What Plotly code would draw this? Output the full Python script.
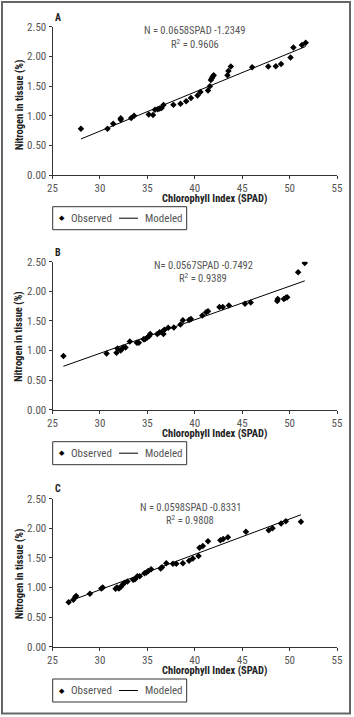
import plotly.graph_objects as go

# ---------------- data ----------------
spad_a = [28.0, 30.8, 31.4, 32.2, 32.2, 33.3, 33.6, 35.15, 35.6, 35.8, 36.1, 36.3, 36.5, 36.7,
          37.75, 38.5, 39.1, 39.6, 40.3, 40.6, 41.4, 41.6, 41.7, 41.8, 41.9, 42.0,
          43.45, 43.55, 43.8, 46.05, 47.75, 48.55, 49.1, 50.1, 50.4, 51.3, 51.7]
n_a = [0.78, 0.78, 0.865, 0.93, 0.955, 0.96, 1.0, 1.02, 1.01, 1.10, 1.11, 1.12, 1.13, 1.18,
       1.185, 1.20, 1.245, 1.30, 1.34, 1.40, 1.425, 1.495, 1.60, 1.63, 1.66, 1.68,
       1.68, 1.755, 1.83, 1.815, 1.83, 1.835, 1.87, 1.98, 2.15, 2.19, 2.23]

spad_b = [26.15, 30.7, 31.75, 31.85, 32.2, 32.45, 32.7, 33.15, 33.9, 34.1, 34.6, 34.75,
          35.0, 35.2, 35.3, 36.05, 36.3, 36.6, 36.7, 36.8, 37.2, 37.8, 38.5, 38.75,
          39.4, 39.6, 40.8, 41.2, 41.4, 42.6, 42.95, 43.6, 45.3, 45.9, 48.7, 48.75,
          49.4, 49.6, 49.75, 50.9, 51.6]
n_b = [0.905, 0.95, 0.96, 1.035, 1.0, 1.05, 1.05, 1.15, 1.13, 1.13, 1.19, 1.19,
       1.22, 1.245, 1.28, 1.28, 1.31, 1.32, 1.28, 1.35, 1.385, 1.39, 1.44, 1.51,
       1.515, 1.53, 1.59, 1.645, 1.665, 1.735, 1.735, 1.76, 1.79, 1.81, 1.835, 1.87,
       1.87, 1.89, 1.90, 2.32, 2.48]

spad_c = [26.7, 27.2, 27.4, 27.5, 28.95, 30.15, 30.3, 31.65, 31.8, 32.0, 32.2, 32.4, 32.6,
          32.9, 33.5, 33.7, 33.95, 34.2, 34.7, 34.9, 35.1, 35.4, 36.4, 36.55, 37.0,
          37.7, 38.05, 38.75, 39.4, 39.8, 40.4, 40.5, 40.85, 41.4, 42.7, 43.0, 43.5,
          45.4, 47.8, 48.2, 49.1, 49.6, 51.2]
n_c = [0.75, 0.795, 0.84, 0.855, 0.895, 0.985, 1.0, 0.98, 1.0, 0.985, 1.01, 1.05, 1.08,
       1.10, 1.13, 1.14, 1.19, 1.19, 1.24, 1.255, 1.28, 1.31, 1.32, 1.34, 1.41,
       1.40, 1.40, 1.41, 1.45, 1.49, 1.53, 1.67, 1.70, 1.78, 1.80, 1.82, 1.85,
       1.94, 1.965, 2.0, 2.08, 2.12, 2.11]

panel_labels = ["A", "B", "C"]
slopes = [0.0658, 0.0567, 0.0598]
intercepts = [-1.2349, -0.7492, -0.8331]
equations = ["N = 0.0658SPAD -1.2349", "N= 0.0567SPAD -0.7492", "N = 0.0598SPAD -0.8331"]
r2_texts = ["R<sup>2</sup> = 0.9606", "R<sup>2</sup> = 0.9389", "R<sup>2</sup> = 0.9808"]
series_names = ["Observed", "Modeled"]
x_ticks = [25, 30, 35, 40, 45, 50, 55]
y_ticks = [0.0, 0.5, 1.0, 1.5, 2.0, 2.5]
y_tick_labels = ["0.00", "0.50", "1.00", "1.50", "2.00", "2.50"]
x_title = "Chlorophyll Index (SPAD)"
y_title = "Nitrogen in tissue (%)"

# ---------------- layout helpers ----------------
W, H = 354, 717
FONT = "Roboto Condensed, Liberation Sans Narrow, Arial Narrow, sans-serif"
GRAY = "#555555"
DARK = "#222222"

def fx(px):
    return px / W

def fy(py):  # pixel y from top -> paper fraction
    return 1 - py / H

# plot areas in pixels: (top, bottom)
areas = [(26.7, 175.0), (261.7, 409.7), (498.7, 646.7)]
x_left, x_right = 52.5, 337.0
legend_tops = [206.7, 441.7, 679.0]
eq_pos = [(40.0, 2.43, 2.21), (40.9, 2.43, 2.22), (39.55, 2.355, 2.14)]
label_px = [(58, 18), (58, 252), (58, 489)]
xtitle_py = [198.5, 433.2, 670.5]
ytitle_py = [105, 336.7, 574]

datasets = [(spad_a, n_a), (spad_b, n_b), (spad_c, n_c)]

fig = go.Figure()
annotations = []
shapes = [dict(type="rect", xref="paper", yref="paper",
               x0=fx(2), x1=fx(350), y0=fy(713.5), y1=fy(2),
               line=dict(color="#666", width=2))]

def paper_text(px, py, text, font, xanchor="center", angle=0):
    return dict(x=fx(px), y=fy(py), xref="paper", yref="paper", text=text,
                showarrow=False, xanchor=xanchor, yanchor="middle",
                textangle=angle, font=font)

for i, (xs, ys) in enumerate(datasets):
    sfx = "" if i == 0 else str(i + 1)
    xa, ya = "x" + sfx, "y" + sfx
    fig.add_trace(go.Scatter(
        x=xs, y=ys, mode="markers", name=series_names[0],
        marker=dict(symbol="diamond", size=5, color="black"),
        xaxis=xa, yaxis=ya, showlegend=False))
    xmin, xmax = min(xs), max(xs)
    fig.add_trace(go.Scatter(
        x=[xmin, xmax],
        y=[slopes[i] * xmin + intercepts[i], slopes[i] * xmax + intercepts[i]],
        mode="lines", name=series_names[1], line=dict(color="black", width=1),
        xaxis=xa, yaxis=ya, showlegend=False))

    top, bot = areas[i]
    fig.update_layout(**{
        "xaxis" + sfx: dict(
            domain=[fx(x_left), fx(x_right)], anchor=ya, range=[25, 55],
            tickmode="array", tickvals=x_ticks, ticks="outside", ticklen=3,
            tickcolor="#333", showline=True, linecolor="#333", linewidth=1,
            showgrid=False, zeroline=False, automargin=False,
            tickfont=dict(family=FONT, size=11, color=GRAY)),
        "yaxis" + sfx: dict(
            domain=[fy(bot), fy(top)], anchor=xa, range=[0, 2.5],
            tickmode="array", tickvals=y_ticks, ticktext=y_tick_labels,
            ticks="outside", ticklen=3, tickcolor="#333",
            showline=True, linecolor="#333", linewidth=1,
            showgrid=False, zeroline=False, automargin=False,
            tickfont=dict(family=FONT, size=11, color=GRAY)),
    })

    ex, ey1, ey2 = eq_pos[i]
    annotations.append(dict(x=ex, y=ey1, xref=xa, yref=ya, text=equations[i],
                            showarrow=False, yanchor="middle",
                            font=dict(family=FONT, size=10.5, color=GRAY)))
    annotations.append(dict(x=ex, y=ey2, xref=xa, yref=ya, text=r2_texts[i],
                            showarrow=False, yanchor="middle",
                            font=dict(family=FONT, size=10.5, color=GRAY)))
    lx, ly = label_px[i]
    annotations.append(paper_text(lx, ly, "<b>" + panel_labels[i] + "</b>",
                                  dict(family=FONT, size=10, color=DARK)))
    annotations.append(paper_text(214, xtitle_py[i], "<b>" + x_title + "</b>",
                                  dict(family=FONT, size=10.5, color=DARK)))
    annotations.append(paper_text(19, ytitle_py[i], "<b>" + y_title + "</b>",
                                  dict(family=FONT, size=10.5, color=DARK), angle=-90))

    # key box under each panel
    lt = legend_tops[i]
    lc = lt + 11.5
    shapes.append(dict(type="rect", xref="paper", yref="paper",
                       x0=fx(52.7), x1=fx(186.7), y0=fy(lt + 23), y1=fy(lt),
                       line=dict(color="#333", width=1)))
    shapes.append(dict(type="line", xref="paper", yref="paper",
                       x0=fx(119), x1=fx(138), y0=fy(lc), y1=fy(lc),
                       line=dict(color="black", width=1)))
    annotations.append(paper_text(62, lc, "◆", dict(family="DejaVu Sans", size=7, color="black")))
    annotations.append(paper_text(69, lc, series_names[0],
                                  dict(family=FONT, size=11, color=GRAY), xanchor="left"))
    annotations.append(paper_text(143, lc, series_names[1],
                                  dict(family=FONT, size=11, color=GRAY), xanchor="left"))

fig.update_layout(
    template="none",
    width=W, height=H, margin=dict(l=0, r=0, t=0, b=0),
    paper_bgcolor="white", plot_bgcolor="white",
    showlegend=False, hovermode=False,
    annotations=annotations,
    shapes=shapes,
)

fig.write_html("out.html", config={"displayModeBar": False, "staticPlot": True},
               post_script="document.body.style.margin='0px';document.body.style.padding='0px';")
